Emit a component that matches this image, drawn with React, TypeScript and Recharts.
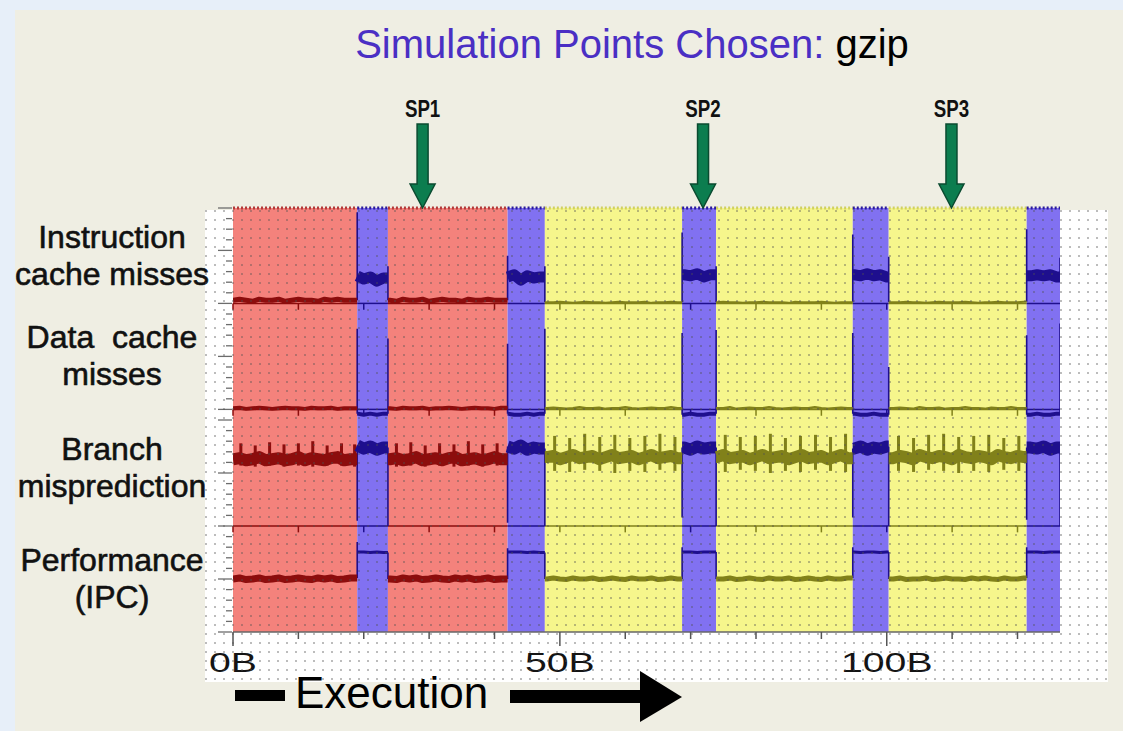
import React from 'react';
import { ComposedChart, Line, XAxis, YAxis, ReferenceArea, ReferenceLine, ReferenceDot } from 'recharts';

const FONT = '"Liberation Sans", Arial, Helvetica, sans-serif';

// execution position of every sample (billions of instructions)
const sampleB = [
  0, 1, 2, 3, 4, 5, 6, 7, 8, 9, 10, 11, 12, 13, 14, 15, 16, 17, 18, 19,
  20, 21, 22, 23, 24, 25, 26, 27, 28, 29, 30, 31, 32, 33, 34, 35, 36, 37, 38, 39,
  40, 41, 42, 43, 44, 45, 46, 47, 48, 49, 50, 51, 52, 53, 54, 55, 56, 57, 58, 59,
  60, 61, 62, 63, 64, 65, 66, 67, 68, 69, 70, 71, 72, 73, 74, 75, 76, 77, 78, 79,
  80, 81, 82, 83, 84, 85, 86, 87, 88, 89, 90, 91, 92, 93, 94, 95, 96, 97, 98, 99,
  100, 101, 102, 103, 104, 105, 106, 107, 108, 109, 110, 111, 112, 113, 114, 115, 116, 117, 118, 119,
  120, 121, 122, 123, 124, 125, 126,
];

// program phases (A = red, B = blue, C = yellow)
const phaseStart = [0, 19.0, 23.7, 42.0, 47.7, 68.7, 73.9, 94.8, 100.3, 121.4];
const phaseEnd = [19.0, 23.7, 42.0, 47.7, 68.7, 73.9, 94.8, 100.3, 121.4, 126.5];
const phaseKind = ['A', 'B', 'A', 'B', 'C', 'B', 'C', 'B', 'C', 'B'];

// simulation points
const spNames = ['SP1', 'SP2', 'SP3'];
const spPosB = [29.0, 71.9, 109.9];

// metric traces (level above each panel's baseline)
const icMisses = [
  0.03, 0.04, 0.03, 0.02, 0.04, 0.03, 0.03, 0.04, 0.02, 0.03, 0.04, 0.03, 0.03, 0.02, 0.04, 0.03, 0.04, 0.03, 0.03,
  0.26, 0.23, 0.25, 0.21, 0.24,
  0.03, 0.02, 0.04, 0.03, 0.03, 0.04, 0.02, 0.03, 0.04, 0.03, 0.03, 0.02, 0.04, 0.03, 0.03, 0.04, 0.03, 0.03,
  0.25, 0.27, 0.22, 0.26, 0.24, 0.25,
  0.01, 0.01, 0.015, 0.01, 0.005, 0.01, 0.015, 0.01, 0.01, 0.005, 0.01, 0.015, 0.01, 0.01, 0.01, 0.015, 0.005, 0.01, 0.01, 0.015, 0.01,
  0.27, 0.26, 0.28, 0.25, 0.27,
  0.01, 0.015, 0.01, 0.01, 0.005, 0.01, 0.01, 0.015, 0.01, 0.01, 0.01, 0.005, 0.015, 0.01, 0.01, 0.01, 0.015, 0.01, 0.005, 0.01, 0.01,
  0.27, 0.26, 0.28, 0.26, 0.27, 0.25,
  0.01, 0.01, 0.015, 0.01, 0.01, 0.005, 0.01, 0.015, 0.01, 0.01, 0.01, 0.015, 0.01, 0.005, 0.01, 0.01, 0.015, 0.01, 0.01, 0.01, 0.015,
  0.26, 0.27, 0.26, 0.27, 0.25,
];
const dcMisses = [
  0.01, 0.015, 0.005, 0.01, 0.015, 0.01, 0.005, 0.01, 0.015, 0.01, 0.01, 0.005, 0.015, 0.01, 0.01, 0.015, 0.005, 0.01, 0.01,
  -0.04, -0.05, -0.04, -0.05, -0.04,
  0.01, 0.005, 0.015, 0.01, 0.01, 0.015, 0.005, 0.01, 0.01, 0.015, 0.01, 0.005, 0.01, 0.015, 0.01, 0.01, 0.005, 0.015,
  -0.04, -0.05, -0.05, -0.04, -0.05, -0.04,
  0.01, 0.015, 0.01, 0.005, 0.01, 0.02, 0.01, 0.01, 0.015, 0.005, 0.01, 0.01, 0.02, 0.01, 0.005, 0.01, 0.015, 0.01, 0.01, 0.02, 0.01,
  -0.05, -0.04, -0.05, -0.05, -0.04,
  0.01, 0.01, 0.02, 0.005, 0.01, 0.015, 0.01, 0.01, 0.02, 0.01, 0.005, 0.01, 0.015, 0.01, 0.01, 0.02, 0.01, 0.005, 0.01, 0.015, 0.01,
  -0.04, -0.05, -0.05, -0.04, -0.05, -0.05,
  0.01, 0.015, 0.01, 0.005, 0.02, 0.01, 0.01, 0.015, 0.005, 0.01, 0.01, 0.02, 0.01, 0.01, 0.005, 0.015, 0.01, 0.01, 0.02, 0.01, 0.01,
  -0.05, -0.04, -0.05, -0.05, -0.04,
];
const branchMisp = [
  0.63, 0.64, 0.62, 0.63, 0.65, 0.62, 0.63, 0.64, 0.62, 0.63, 0.65, 0.62, 0.64, 0.63, 0.62, 0.64, 0.65, 0.62, 0.63,
  0.76, 0.73, 0.75, 0.72, 0.74,
  0.63, 0.64, 0.62, 0.63, 0.65, 0.62, 0.63, 0.64, 0.62, 0.64, 0.65, 0.62, 0.63, 0.64, 0.62, 0.63, 0.65, 0.63,
  0.75, 0.73, 0.76, 0.72, 0.74, 0.73,
  0.65, 0.66, 0.63, 0.65, 0.67, 0.64, 0.65, 0.66, 0.63, 0.65, 0.67, 0.64, 0.65, 0.66, 0.63, 0.65, 0.67, 0.64, 0.65, 0.66, 0.64,
  0.74, 0.72, 0.75, 0.73, 0.74,
  0.65, 0.67, 0.64, 0.65, 0.66, 0.63, 0.65, 0.67, 0.64, 0.65, 0.66, 0.63, 0.65, 0.67, 0.64, 0.65, 0.66, 0.63, 0.65, 0.67, 0.64,
  0.73, 0.75, 0.72, 0.74, 0.73, 0.75,
  0.64, 0.66, 0.65, 0.63, 0.67, 0.65, 0.64, 0.66, 0.65, 0.63, 0.67, 0.65, 0.64, 0.66, 0.65, 0.63, 0.67, 0.65, 0.64, 0.66, 0.65,
  0.74, 0.73, 0.75, 0.72, 0.74,
];
const ipc = [
  0.50, 0.51, 0.495, 0.50, 0.51, 0.495, 0.50, 0.51, 0.495, 0.50, 0.51, 0.50, 0.495, 0.51, 0.50, 0.51, 0.495, 0.50, 0.51,
  0.755, 0.755, 0.75, 0.755, 0.75,
  0.50, 0.495, 0.51, 0.50, 0.51, 0.495, 0.50, 0.51, 0.50, 0.495, 0.51, 0.50, 0.51, 0.495, 0.50, 0.51, 0.495, 0.50,
  0.755, 0.755, 0.755, 0.75, 0.755, 0.75,
  0.50, 0.51, 0.50, 0.495, 0.51, 0.50, 0.50, 0.51, 0.495, 0.50, 0.51, 0.50, 0.495, 0.51, 0.50, 0.50, 0.51, 0.495, 0.50, 0.51, 0.50,
  0.755, 0.755, 0.75, 0.755, 0.755,
  0.50, 0.50, 0.51, 0.495, 0.50, 0.51, 0.50, 0.495, 0.51, 0.50, 0.50, 0.51, 0.495, 0.50, 0.51, 0.50, 0.495, 0.51, 0.50, 0.50, 0.51,
  0.755, 0.75, 0.755, 0.755, 0.75, 0.755,
  0.50, 0.51, 0.495, 0.50, 0.50, 0.51, 0.495, 0.50, 0.51, 0.50, 0.50, 0.495, 0.51, 0.50, 0.51, 0.50, 0.495, 0.51, 0.50, 0.50, 0.51,
  0.755, 0.755, 0.75, 0.755, 0.755,
];

// periodic misprediction bursts in the branch trace
const burstB = [
  1.2, 3.4, 5.6, 7.8, 10.0, 12.2, 14.4, 16.6, 18.6,
  25.0, 27.2, 29.4, 31.6, 33.8, 36.0, 38.2, 40.4,
  49.2, 51.5, 53.8, 56.1, 58.4, 60.7, 63.0, 65.3, 67.6,
  75.3, 77.6, 79.9, 82.2, 84.5, 86.8, 89.1, 91.4, 93.7,
  101.8, 104.1, 106.4, 108.7, 111.0, 113.3, 115.6, 117.9, 120.2,
];
const burstTop = [
  0.78, 0.76, 0.79, 0.77, 0.78, 0.80, 0.76, 0.78, 0.77,
  0.78, 0.79, 0.76, 0.78, 0.77, 0.80, 0.77, 0.78,
  0.85, 0.83, 0.87, 0.84, 0.86, 0.83, 0.85, 0.87, 0.84,
  0.86, 0.84, 0.85, 0.87, 0.83, 0.85, 0.86, 0.84, 0.87,
  0.85, 0.83, 0.86, 0.87, 0.84, 0.85, 0.86, 0.83, 0.85,
];
const burstLow = [
  0.57, 0.56, 0.57, 0.56, 0.57, 0.56, 0.57, 0.57, 0.56,
  0.56, 0.57, 0.56, 0.57, 0.56, 0.57, 0.56, 0.57,
  0.52, 0.51, 0.53, 0.52, 0.50, 0.52, 0.51, 0.53, 0.52,
  0.51, 0.53, 0.52, 0.50, 0.52, 0.51, 0.53, 0.52, 0.51,
  0.52, 0.51, 0.53, 0.52, 0.50, 0.52, 0.51, 0.53, 0.52,
];

// transients at the edges of every blue phase
const icSpikeIn = [0.86, 0.45, 0.67, 0.65, 0.70];
const icSpikeOut = [0.35, 0.35, 0.35, 0.44, 0.43];
const dcSpikeIn = [0.76, 0.62, 0.72, 0.72, 0.70];
const dcSpikeOut = [0.67, 0.76, 0.75, 0.40, 0.81];
const brSpikeIn = [0.05, 0.03, 0.08, 0.08, 0.06];
const brSpikeOut = [0.0, 0.0, 0.0, 0.0, 0.0];
const ipcSpikeIn = [0.85, 0.79, 0.80, 0.80, 0.80];
const ipcSpikeOut = [0.75, 0.75, 0.75, 0.75, 0.75];

// panels, top to bottom
const panelLabels = [
  ['Instruction', 'cache misses'],
  ['Data  cache', 'misses'],
  ['Branch', 'misprediction'],
  ['Performance', '(IPC)'],
];
const panelBase = [3.1, 2.1, 1.0, 0];
const panelHeight = [0.9, 1.0, 1.1, 1.0];
const panelValues = [icMisses, dcMisses, branchMisp, ipc];
const panelSpikeIn = [icSpikeIn, dcSpikeIn, brSpikeIn, ipcSpikeIn];
const panelSpikeOut = [icSpikeOut, dcSpikeOut, brSpikeOut, ipcSpikeOut];
const panelWidth: Record<string, number>[] = [
  { A: 5, B: 11, C: 2 },
  { A: 4, B: 4, C: 2.5 },
  { A: 12, B: 12, C: 12 },
  { A: 7, B: 3, C: 5 },
];
const BRANCH = 2;

const xTicks = [0, 10, 20, 30, 40, 50, 60, 70, 80, 90, 100, 110, 120];
const xMajor = [0, 50, 100];
const xMajorLabels = ['0B', '50B', '100B'];

const KIND_FILL: Record<string, string> = { A: '#f4827c', B: '#8171f1', C: '#f6f68c' };
const KIND_TRACE: Record<string, string> = { A: '#8c0d0d', B: '#1e0f8e', C: '#81811a' };
const KIND_EDGE: Record<string, string> = { A: '#b23a3a', B: '#2b1b9c', C: '#d0d060' };

type Pt = { x: number; v: number };

const phaseAt = (x: number) => {
  const i = phaseStart.findIndex((s, k) => x >= s && x < phaseEnd[k]);
  return phaseKind[i < 0 ? phaseKind.length - 1 : i];
};

// left-hand small ticks for each panel scale
const yTicks: number[] = [];
const yTickLong: boolean[] = [];
panelBase.forEach((b, i) => {
  const n = Math.round(panelHeight[i] * 10);
  for (let k = 0; k < n; k++) {
    yTicks.push(+(b + k * 0.1).toFixed(3));
    yTickLong.push(k % 5 === 0);
  }
});
yTicks.push(4);
yTickLong.push(true);

function buildPanel(p: number) {
  const values = panelValues[p];
  const base = panelBase[p];
  const mains: { kind: string; pts: Pt[] }[] = [];
  const connectors: Pt[][] = [];
  const firsts: number[] = [];
  const lasts: number[] = [];
  phaseStart.forEach((start, i) => {
    const end = phaseEnd[i];
    const inside: Pt[] = [];
    sampleB.forEach((x, j) => {
      if (x >= start && x < end) inside.push({ x, v: base + values[j] });
    });
    firsts.push(inside[0].v);
    lasts.push(inside[inside.length - 1].v);
    mains.push({
      kind: phaseKind[i],
      pts: [{ x: start, v: inside[0].v }, ...inside, { x: end, v: inside[inside.length - 1].v }],
    });
  });
  let blue = 0;
  phaseStart.forEach((start, i) => {
    if (phaseKind[i] !== 'B') return;
    const end = phaseEnd[i];
    const prevLast = i > 0 ? lasts[i - 1] : firsts[i];
    const nextFirst = i < phaseStart.length - 1 ? firsts[i + 1] : lasts[i];
    connectors.push([
      { x: start, v: prevLast },
      { x: start, v: base + panelSpikeIn[p][blue] },
      { x: start, v: firsts[i] },
    ]);
    connectors.push([
      { x: end, v: lasts[i] },
      { x: end, v: base + panelSpikeOut[p][blue] },
      { x: end, v: nextFirst },
    ]);
    blue++;
  });
  return { mains, connectors };
}

const XTick = (props: any) => {
  const { x, y, payload } = props;
  const mi = xMajor.indexOf(payload.value);
  const major = mi >= 0;
  return (
    <g>
      <line x1={x} y1={y} x2={x} y2={y + (major ? 14 : 7)} stroke="#555" strokeWidth={1.5} />
      {major && (
        <text
          transform={`translate(${x},${y + 40}) scale(1.4,1)`}
          textAnchor="middle"
          fontSize={28}
          fontFamily={FONT}
          fill="#141414"
        >
          {xMajorLabels[mi]}
        </text>
      )}
    </g>
  );
};

const YTick = (props: any) => {
  const { x, y, index } = props;
  const len = yTickLong[index] ? 15 : 7;
  return <line x1={x - len} y1={y} x2={x - 1} y2={y} stroke="#6c6c6c" strokeWidth={1.3} />;
};

const panelLabelShape = (lines: string[]) => (p: any) => {
  const cx = p.cx - 121;
  const common = {
    x: cx,
    textAnchor: 'middle' as const,
    fontSize: 32,
    fontFamily: FONT,
    fill: '#111',
    stroke: '#111',
    strokeWidth: 0.6,
    style: { whiteSpace: 'pre' as const },
  };
  return (
    <g>
      <text {...common} y={p.cy - 8}>
        {lines[0]}
      </text>
      <text {...common} y={p.cy + 29}>
        {lines[1]}
      </text>
    </g>
  );
};

const spArrowShape = (label: string) => (p: any) => {
  const { cx, cy } = p;
  const sw = 5.5;
  const hw = 12.5;
  const pts = [
    [cx - sw, cy - 84],
    [cx + sw, cy - 84],
    [cx + sw, cy - 24],
    [cx + hw, cy - 24],
    [cx, cy],
    [cx - hw, cy - 24],
    [cx - sw, cy - 24],
  ]
    .map((q) => q.join(','))
    .join(' ');
  return (
    <g>
      <polygon points={pts} fill="#0c7d4f" stroke="#0a4b30" strokeWidth={1.5} />
      <text
        transform={`translate(${cx},${cy - 91}) scale(0.78,1)`}
        textAnchor="middle"
        fontSize={24}
        fontWeight="bold"
        fontFamily={FONT}
        fill="#111"
      >
        {label}
      </text>
    </g>
  );
};

export default function App() {
  const panels = panelBase.map((_, p) => buildPanel(p));
  const dots =
    'radial-gradient(circle at 1px 1px, rgba(80,80,80,0.38) 0.9px, transparent 1.2px)';
  return (
    <div
      style={{
        position: 'absolute',
        left: 0,
        top: 0,
        width: 1123,
        height: 731,
        overflow: 'hidden',
        background: '#efeee3',
        fontFamily: FONT,
      }}
    >
      <div style={{ position: 'absolute', left: 0, top: 0, width: 1123, height: 10, background: '#e7eff9' }} />
      <div style={{ position: 'absolute', left: 0, top: 0, width: 15, height: 731, background: '#e7eff9' }} />
      <div style={{ position: 'absolute', left: 205, top: 210, width: 903, height: 472, background: '#ffffff' }} />
      <div style={{ position: 'absolute', left: 0, top: 0 }}>
        <ComposedChart width={1123} height={731} margin={{ top: 208, right: 63, bottom: 39, left: 200 }}>
          <XAxis
            dataKey="x"
            type="number"
            domain={[0, 126.5]}
            allowDataOverflow
            ticks={xTicks}
            interval={0}
            tickSize={0}
            tickMargin={0}
            tickLine={false}
            tick={<XTick />}
            axisLine={{ stroke: '#666', strokeWidth: 1.5 }}
            height={60}
          />
          <YAxis
            type="number"
            domain={[0, 4]}
            allowDataOverflow
            ticks={yTicks}
            interval={0}
            tickSize={0}
            tickMargin={0}
            tickLine={false}
            axisLine={false}
            tick={<YTick />}
            width={33}
          />
          {phaseStart.map((s, i) => (
            <ReferenceArea
              key={`band-${i}`}
              x1={s}
              x2={phaseEnd[i]}
              y1={0}
              y2={4}
              fill={KIND_FILL[phaseKind[i]]}
              fillOpacity={1}
              stroke="none"
            />
          ))}
          {phaseStart.map((s, i) => (
            <ReferenceLine
              key={`top-${i}`}
              segment={[{ x: s, y: 4 }, { x: phaseEnd[i], y: 4 }]}
              stroke={KIND_EDGE[phaseKind[i]]}
              strokeWidth={3}
              strokeDasharray="2 2"
              ifOverflow="visible"
            />
          ))}
          {panelBase.slice(0, 3).map((b, p) =>
            phaseStart.map((s, i) => (
              <ReferenceLine
                key={`base-${p}-${i}`}
                segment={[{ x: s, y: b }, { x: phaseEnd[i], y: b }]}
                stroke={KIND_TRACE[phaseKind[i]]}
                strokeWidth={1.5}
                ifOverflow="visible"
              />
            ))
          )}
          {panelBase.slice(0, 3).map((b, p) =>
            xTicks.map((t, k) => (
              <ReferenceLine
                key={`bt-${p}-${k}`}
                segment={[{ x: t, y: b }, { x: t, y: b - 0.06 }]}
                stroke={KIND_TRACE[phaseAt(t)]}
                strokeWidth={1.5}
                ifOverflow="visible"
              />
            ))
          )}
          {panels.map((pn, p) =>
            pn.connectors.map((c, k) => (
              <Line
                key={`con-${p}-${k}`}
                data={c}
                dataKey="v"
                type="linear"
                stroke={KIND_TRACE.B}
                strokeWidth={1.6}
                dot={false}
                activeDot={false}
                isAnimationActive={false}
              />
            ))
          )}
          {burstB.map((x, k) => (
            <ReferenceLine
              key={`burst-${k}`}
              segment={[
                { x, y: panelBase[BRANCH] + burstLow[k] },
                { x, y: panelBase[BRANCH] + burstTop[k] },
              ]}
              stroke={KIND_TRACE[phaseAt(x)]}
              strokeWidth={3}
              ifOverflow="visible"
            />
          ))}
          {panels.map((pn, p) =>
            pn.mains.map((m, k) => (
              <Line
                key={`main-${p}-${k}`}
                data={m.pts}
                dataKey="v"
                type="linear"
                stroke={KIND_TRACE[m.kind]}
                strokeWidth={panelWidth[p][m.kind]}
                strokeLinejoin="round"
                dot={false}
                activeDot={false}
                isAnimationActive={false}
              />
            ))
          )}
          {panelLabels.map((lines, p) => (
            <ReferenceDot
              key={`pl-${p}`}
              x={0}
              y={panelBase[p] + panelHeight[p] / 2}
              r={0}
              ifOverflow="visible"
              shape={panelLabelShape(lines)}
            />
          ))}
          {spNames.map((n, i) => (
            <ReferenceDot key={`sp-${i}`} x={spPosB[i]} y={4} r={0} ifOverflow="visible" shape={spArrowShape(n)} />
          ))}
        </ComposedChart>
      </div>
      <div
        style={{
          position: 'absolute',
          left: 205,
          top: 210,
          width: 903,
          height: 472,
          backgroundImage: dots,
          backgroundSize: '9px 9px',
          pointerEvents: 'none',
        }}
      />
      <svg width={1123} height={731} style={{ position: 'absolute', left: 0, top: 0, pointerEvents: 'none' }}>
        <text x={632} y={58} textAnchor="middle" fontSize={40} fontFamily={FONT} style={{ whiteSpace: 'pre' }}>
          <tspan fill="#4a2fc4">Simulation Points Chosen:</tspan>
          <tspan fill="#000"> gzip</tspan>
        </text>
        <rect x={235} y={690} width={50} height={11} fill="#000" />
        <text x={295} y={708} fontSize={44} fontFamily={FONT} fill="#000">
          Execution
        </text>
        <rect x={510} y={690} width={131} height={13} fill="#000" />
        <polygon points="640,671 682,697 640,722" fill="#000" />
      </svg>
    </div>
  );
}
